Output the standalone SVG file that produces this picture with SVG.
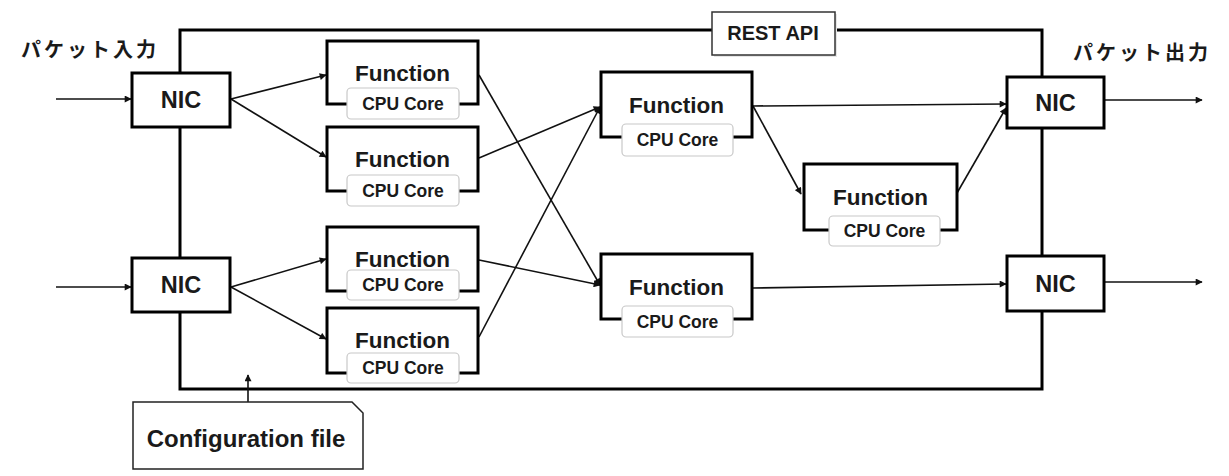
<svg xmlns="http://www.w3.org/2000/svg" width="1229" height="476" viewBox="0 0 1229 476">
  <defs>
    <marker id="arrow" viewBox="0 0 10 10" refX="9" refY="5" markerWidth="8" markerHeight="7" markerUnits="userSpaceOnUse" orient="auto">
      <path d="M0,0 L10,5 L0,10 z" fill="#111"/>
    </marker>
    <style>
      .frame { fill: none; stroke: #000; stroke-width: 3; }
      .box { fill: #fff; stroke: #000; stroke-width: 3; }
      .core { fill: #fff; stroke: #c8c8c8; stroke-width: 1.2; }
      .edge { fill: none; stroke: #111; stroke-width: 1.6; marker-end: url(#arrow); }
      .t { font-family: "Liberation Sans", Arial, sans-serif; font-weight: bold; fill: #1a1a1a; text-anchor: middle; }
      .fn { font-size: 22.5px; }
      .cpu { font-size: 17.5px; }
      .nic { font-size: 23.5px; }
      .jp { font-family: "Noto Sans CJK JP", "Noto Sans CJK SC", sans-serif; font-weight: bold; font-size: 20px; fill: #1a1a1a; letter-spacing: 3px; }
    </style>
  </defs>

  <rect width="1229" height="476" fill="#fff"/>

  <!-- outer platform frame -->
  <rect class="frame" x="180" y="30" width="862" height="359"/>

  <!-- labels outside the frame -->
  <text class="jp" x="21" y="57">パケット入力</text>
  <text class="jp" x="1073" y="60">パケット出力</text>

  <!-- connectors -->
  <g id="connectors">
    <line class="edge" x1="56" y1="99" x2="131" y2="99"/>
    <line class="edge" x1="56" y1="287" x2="131" y2="287"/>
    <line class="edge" x1="231" y1="99" x2="326" y2="75"/>
    <line class="edge" x1="231" y1="99" x2="326" y2="157"/>
    <line class="edge" x1="231" y1="287" x2="326" y2="259"/>
    <line class="edge" x1="231" y1="287" x2="326" y2="339"/>
    <line class="edge" x1="479" y1="75" x2="600" y2="285"/>
    <line class="edge" x1="479" y1="158" x2="600" y2="107"/>
    <line class="edge" x1="479" y1="260" x2="600" y2="285"/>
    <line class="edge" x1="479" y1="337" x2="600" y2="107"/>
    <line class="edge" x1="753" y1="106" x2="1006" y2="104"/>
    <line class="edge" x1="753" y1="106" x2="801" y2="194"/>
    <line class="edge" x1="957" y1="193" x2="1006" y2="108"/>
    <line class="edge" x1="753" y1="288" x2="1006" y2="284"/>
    <line class="edge" x1="1105" y1="100" x2="1202" y2="100"/>
    <line class="edge" x1="1105" y1="282" x2="1202" y2="282"/>
    <line class="edge" x1="248" y1="402" x2="248" y2="375"/>
  </g>

  <!-- REST API tab on the frame -->
  <g id="rest-api">
    <rect x="714" y="14" width="123" height="43" fill="#e6e6e6"/>
    <rect x="712" y="12" width="123" height="43" fill="#fff" stroke="#333" stroke-width="1.5"/>
    <text class="t" x="773" y="40" font-size="20">REST API</text>
  </g>

  <!-- network interfaces -->
  <g id="nic-in-1">
    <rect class="box" x="132" y="73" width="98" height="54"/>
    <text class="t nic" x="181" y="108">NIC</text>
  </g>
  <g id="nic-in-2">
    <rect class="box" x="132" y="258" width="98" height="54"/>
    <text class="t nic" x="181" y="293">NIC</text>
  </g>
  <g id="nic-out-1">
    <rect class="box" x="1007" y="77" width="97" height="51"/>
    <text class="t nic" x="1055.5" y="111">NIC</text>
  </g>
  <g id="nic-out-2">
    <rect class="box" x="1007" y="256" width="97" height="55"/>
    <text class="t nic" x="1055.5" y="292">NIC</text>
  </g>

  <!-- functions, each pinned to a CPU core -->
  <g id="func-1">
    <rect class="box" x="327" y="41" width="151" height="63"/>
    <text class="t fn" x="402.5" y="81">Function</text>
    <rect class="core" x="347" y="88" width="112" height="31" rx="4"/>
    <text class="t cpu" x="403" y="110">CPU Core</text>
  </g>
  <g id="func-2">
    <rect class="box" x="327" y="127" width="151" height="64"/>
    <text class="t fn" x="402.5" y="167">Function</text>
    <rect class="core" x="347" y="175" width="112" height="31" rx="4"/>
    <text class="t cpu" x="403" y="197">CPU Core</text>
  </g>
  <g id="func-3">
    <rect class="box" x="327" y="227" width="151" height="64"/>
    <text class="t fn" x="402.5" y="267">Function</text>
    <rect class="core" x="347" y="270" width="112" height="30" rx="4"/>
    <text class="t cpu" x="403" y="291">CPU Core</text>
  </g>
  <g id="func-4">
    <rect class="box" x="327" y="308" width="151" height="65"/>
    <text class="t fn" x="402.5" y="348">Function</text>
    <rect class="core" x="347" y="353" width="112" height="30" rx="4"/>
    <text class="t cpu" x="403" y="374">CPU Core</text>
  </g>
  <g id="func-5">
    <rect class="box" x="601" y="72" width="151" height="65"/>
    <text class="t fn" x="676.5" y="113">Function</text>
    <rect class="core" x="622" y="124" width="111" height="32" rx="4"/>
    <text class="t cpu" x="677.5" y="146">CPU Core</text>
  </g>
  <g id="func-6">
    <rect class="box" x="601" y="254" width="151" height="65"/>
    <text class="t fn" x="676.5" y="295">Function</text>
    <rect class="core" x="622" y="306" width="111" height="31" rx="4"/>
    <text class="t cpu" x="677.5" y="328">CPU Core</text>
  </g>
  <g id="func-7">
    <rect class="box" x="804" y="164" width="153" height="66"/>
    <text class="t fn" x="880.5" y="205">Function</text>
    <rect class="core" x="829" y="216" width="111" height="30" rx="4"/>
    <text class="t cpu" x="884.5" y="237">CPU Core</text>
  </g>

  <!-- configuration file feeding the platform -->
  <g id="config-file">
    <polygon points="133,402 352,402 363,413 363,469 133,469" fill="#fff" stroke="#222" stroke-width="1.5"/>
    <text class="t" x="246" y="447" font-size="24">Configuration file</text>
  </g>
</svg>
